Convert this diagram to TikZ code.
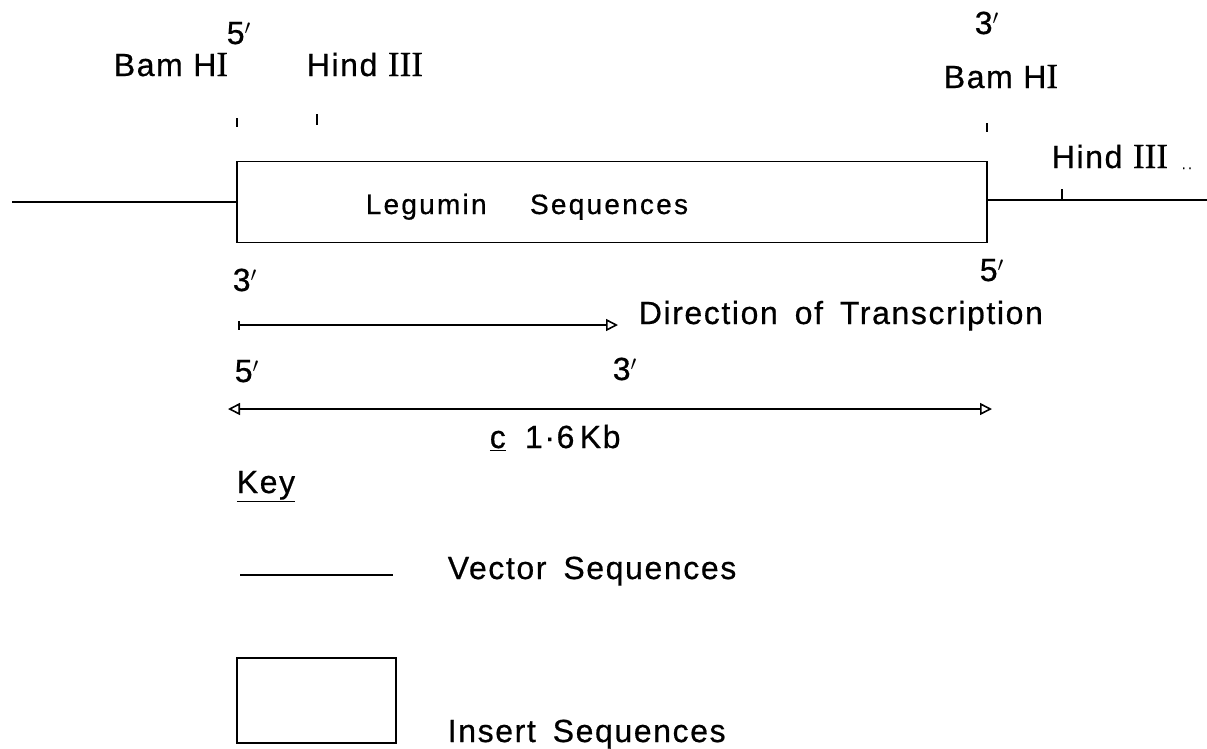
\documentclass[tikz,border=0pt]{standalone}
\usepackage{fontspec}
\setmainfont[LetterSpace=5,FakeBold=0.6]{Liberation Sans}
\newfontfamily\romfont[Scale=1.1,FakeBold=0.6]{Liberation Serif}
\usetikzlibrary{arrows.meta}
\newcommand{\rn}[1]{{\romfont #1}}
\newcommand{\pr}{$'$}
\begin{document}
\begin{tikzpicture}[x=1pt,y=-1pt,line width=1.6pt,
  lbl/.style={inner sep=0pt, anchor=base west, font=\fontsize{32}{36}\selectfont},
  small/.style={lbl, font=\fontsize{28}{32}\selectfont\addfontfeature{LetterSpace=8}},
  tickline/.style={line width=1.8pt},
  boxshape/.style={draw, inner sep=0pt}]
\useasboundingbox (0,0) rectangle (1207,748);

% insert box and vector lines
\node[boxshape, minimum width=750pt, minimum height=81pt] (ins) at (612,202) {};
\coordinate (vL) at (12,202);
\coordinate (vR) at (1207,200);
\draw (vL) -- (ins.west);
\draw (ins.east |- vR) -- (vR);
\node[small] (leg) at (365,214) {Legumin\hspace{1.55em}Sequences};

% restriction site ticks
\coordinate (t1a) at (237,118); \coordinate (t1b) at (237,127);
\coordinate (t2a) at (317,114); \coordinate (t2b) at (317,125);
\coordinate (t3a) at (987,123); \coordinate (t3b) at (987,132);
\coordinate (t4a) at (1062,189); \coordinate (t4b) at (1062,200);
\draw[tickline] (t1a) -- (t1b);
\draw[tickline] (t2a) -- (t2b);
\draw[tickline] (t3a) -- (t3b);
\draw[tickline] (t4a) -- (t4b);

% top labels
\node[lbl] (p5a) at (226,44) {5\pr};
\node[lbl] (bam1) at (113,76) {Bam H\rn{I}};
\node[lbl] (hind1) at (306,76) {Hind \rn{III}};
\node[lbl] (p3a) at (974,34) {3\pr};
\node[lbl] (bam2) at (943,88) {Bam H\rn{I}};
\node[lbl] (hind2) at (1051,168) {Hind \rn{III}};
\node[inner sep=0pt, anchor=base west, font=\fontsize{14}{16}\selectfont] (dots) at (1181,169) {.\,.};

% direction of transcription
\node[lbl] (p3b) at (232,291) {3\pr};
\node[lbl] (p5b) at (979,281) {5\pr};
\coordinate (dA) at (238,325);
\coordinate (dB) at (618,325);
\draw[{Bar[width=9pt]}-{Triangle[open,length=12pt,width=12pt]}] (dA) -- (dB);
\node[lbl] (dir) at (638,324) {Direction\hspace{0.2em} of\hspace{0.2em} Transcription};

% length
\node[lbl] (p5c) at (234,382) {5\pr};
\node[lbl] (p3c) at (612,380) {3\pr};
\coordinate (lA) at (228,409);
\coordinate (lB) at (992,409);
\draw[{Triangle[open,length=12pt,width=12pt]}-{Triangle[open,length=12pt,width=12pt]}] (lA) -- (lB);
\node[lbl] (len) at (489,448) {\underline{c}\hspace{0.6em}1·6\,Kb};

% key
\node[lbl] (key) at (236,493) {\underline{Key}};
\coordinate (kA) at (240,575);
\coordinate (kB) at (393,575);
\draw (kA) -- (kB);
\node[lbl] (vec) at (447,579) {Vector\hspace{0.2em} Sequences};
\node[boxshape, minimum width=159pt, minimum height=85pt] (kbox) at (316.5,700.5) {};
\node[lbl] (insl) at (447,742) {Insert\hspace{0.2em} Sequences};
\end{tikzpicture}
\end{document}
